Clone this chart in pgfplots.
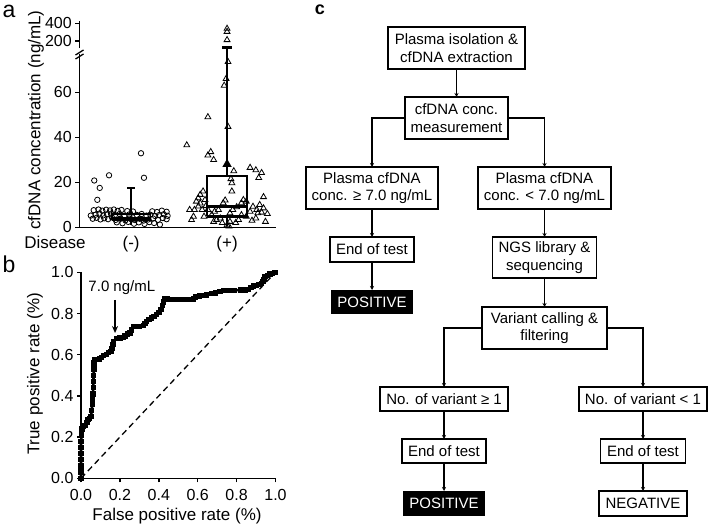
\documentclass[border=0pt]{standalone}
\usepackage{pgfplots}
\pgfplotsset{compat=1.18}
\usepackage{fontspec}
\setmainfont{Liberation Sans}
\usetikzlibrary{arrows.meta}
\begin{document}
\begin{tikzpicture}[x=1pt,y=1pt]
\path[use as bounding box] (0,0) rectangle (709,524);
\pgfplotsset{
  myax/.style={scale only axis, axis line style={-, line width=1.5pt},
    tick style={line width=1.5pt, black}, major tick length=4pt, tick align=outside,
    /pgf/number format/assume math mode=true,
    ticklabel style={font=\fontsize{16}{19}\selectfont}, clip=false},
  neg/.style={only marks, mark=o, mark size=2.7pt, mark options={line width=0.8pt, fill=white}},
  pos/.style={only marks, mark=triangle, mark size=3.4pt, mark options={line width=0.8pt}},
}
% ---------------- panel a : lower segment
\begin{axis}[myax, at={(79.3pt,296.7pt)}, anchor=south west,
  width=196.7pt, height=173.3pt, xmin=0.46, xmax=2.51, ymin=0, ymax=77,
  axis x line*=bottom, axis y line*=left, ytick={0,20,40,60},
  xtick={1,2}, xticklabels={(-),(+)}, x tick style={draw=none},
  xticklabel style={font=\fontsize{17}{20}\selectfont, yshift=-1pt}]
\addplot[neg] coordinates {
(1.103,32.9)(0.77,23.1)(1.134,22.0)(0.616,20.8)(0.673,17.5)(0.648,12.2)
(0.61,7.6)(0.66,7.9)(0.70,7.4)(0.74,7.8)(0.78,7.5)(0.82,7.9)(0.86,7.3)(0.90,7.7)(0.96,7.2)(1.02,7.0)(1.22,7.1)(1.27,6.8)(1.32,7.4)(1.37,6.9)
(0.58,5.2)(0.63,5.6)(0.67,6.1)(0.71,5.3)(0.75,5.8)(0.79,6.0)(0.83,5.4)(0.88,5.9)(0.93,5.1)(0.98,5.7)(1.06,5.5)(1.11,5.9)(1.16,5.2)(1.20,5.6)(1.25,5.0)(1.29,5.4)(1.34,5.8)(1.38,5.1)
(0.60,3.8)(0.64,4.2)(0.68,3.5)(0.72,4.0)(0.76,3.6)(0.80,4.4)(0.84,3.3)(0.89,3.9)(0.94,3.1)(1.00,3.6)(1.04,3.2)(1.09,3.8)(1.13,3.0)(1.18,3.5)(1.23,3.9)(1.28,3.3)(1.33,4.1)(1.37,3.6)
(0.85,2.2)(0.91,1.8)(0.97,2.4)(1.03,1.6)(1.08,2.2)(1.14,1.5)(1.19,2.3)(1.24,1.9)(1.30,1.2)
};
\addplot[pos] coordinates {
(2.01,73.5)(1.97,63)(1.80,49)(2.01,44.7)(1.58,36.5)(1.80,32)(1.83,33.5)(1.86,30)(2.07,25)(2.24,26.5)(2.30,25.4)(2.36,24.2)(2.33,22)(2.04,21.5)(2.05,19.7)(2.05,16)(1.75,16)(2.38,13.5)
(1.77,12.2)(1.72,10.7)(1.70,9.3)(1.66,7.8)(1.61,7.8)(1.65,4.8)(1.63,3.3)(1.74,7.8)(1.76,4.8)(1.80,7.8)(1.84,5.5)(1.86,2.5)(1.93,4.0)(1.96,10.8)(1.98,12.0)(2.03,6.3)(2.03,2.5)(2.12,3.3)(2.15,10.8)(2.17,12.2)(2.20,11.5)(2.24,7.0)(2.27,9.2)(2.31,7.8)(2.32,6.3)(2.36,6.6)(2.40,2.5)(2.30,4.0)(2.20,4.8)(1.89,3.3)(2.00,1.0)(2.02,0.5)(2.15,5.5)(2.10,9.0)(2.06,7.8)(1.91,7.8)(1.87,7.0)(1.70,13.0)(1.72,14.5)(1.68,11.5)(1.78,9.5)(2.09,2.0)(2.26,3.0)(1.95,2.0)(2.34,10.0)(2.38,8.5)(2.42,6.0)
};
% negative box plot
\addplot[line width=1.6pt] coordinates {(0.80,3.2)(1.20,3.2)(1.20,5.8)(0.80,5.8)(0.80,3.2)};
\addplot[line width=1.6pt] coordinates {(0.80,4.2)(1.20,4.2)};
\addplot[line width=1.3pt] coordinates {(1.0,5.8)(1.0,17.5)};
\addplot[line width=1.3pt] coordinates {(0.96,17.5)(1.04,17.5)};
\addplot[line width=1.3pt] coordinates {(1.0,3.2)(1.0,1.2)};
\addplot[only marks, mark=triangle*, mark size=3.5pt] coordinates {(1.0,6.2)};
% positive box plot
\addplot[line width=2.2pt] coordinates {(1.79,4.8)(2.21,4.8)(2.21,22.7)(1.79,22.7)(1.79,4.8)};
\addplot[line width=2.2pt] coordinates {(1.79,9.2)(2.21,9.2)};
\addplot[line width=2.6pt] coordinates {(2.0,22.7)(2.0,79.8)};
\addplot[line width=2.6pt] coordinates {(1.95,79.8)(2.05,79.8)};
\addplot[line width=2.6pt] coordinates {(2.0,4.8)(2.0,0.5)};
\addplot[only marks, mark=triangle*, mark size=5pt] coordinates {(2.0,28)};
\addplot[pos] coordinates {(1.99,66)};
\end{axis}
% ---------------- panel a : upper segment
\begin{axis}[myax, at={(79.3pt,475.9pt)}, anchor=south west,
  width=196.7pt, height=26.6pt, xmin=0.46, xmax=2.51, ymin=120, ymax=420,
  axis x line=none, axis y line*=left, ytick={200,400}]
\addplot[pos] coordinates {(2.0,340)(2.0,305)(2.0,212)};
\end{axis}
% axis break marks
\draw[line width=1.3pt] (75.5,469) -- (83.5,474);
\draw[line width=1.3pt] (75.5,465) -- (83.5,470);
\node[rotate=90, font=\fontsize{17}{20}\selectfont] at (36,404) {cfDNA concentration (ng/mL)};
\node[font=\fontsize{17}{20}\selectfont] at (55,282) {Disease};
\node[inner sep=0pt, font=\fontsize{23}{26}\selectfont] at (9,513) {a};
% ---------------- panel b : ROC
\begin{axis}[myax, at={(81pt,45.7pt)}, anchor=south west,
  width=194.5pt, height=206pt, xmin=0, xmax=1, ymin=0, ymax=1,
  axis lines*=left, xtick={0,0.2,...,1.0}, ytick={0,0.2,...,1.0},
  xticklabel style={yshift=-3pt},
  /pgf/number format/.cd, fixed, fixed zerofill, precision=1, /pgfplots/.cd]
\addplot[line width=1.3pt, dash pattern=on 6pt off 4pt] coordinates {(0,0)(1,1)};
\addplot[line width=2.6pt, mark=square*, mark size=1.4pt] coordinates {
(0,0)(0,0.03)(0,0.06)(0,0.09)(0,0.12)(0,0.15)(0,0.18)(0.004,0.21)(0.006,0.24)(0.012,0.25)(0.02,0.255)(0.03,0.27)(0.037,0.285)(0.045,0.29)(0.052,0.30)(0.055,0.33)(0.058,0.36)(0.06,0.38)(0.062,0.41)(0.063,0.44)(0.064,0.47)(0.065,0.50)(0.066,0.53)(0.067,0.56)(0.068,0.575)(0.08,0.577)(0.095,0.58)(0.106,0.585)(0.115,0.595)(0.132,0.60)(0.14,0.61)(0.154,0.615)(0.16,0.63)(0.165,0.65)(0.168,0.665)(0.183,0.68)(0.2,0.682)(0.215,0.684)(0.226,0.69)(0.24,0.70)(0.252,0.705)(0.26,0.72)(0.269,0.737)(0.285,0.738)(0.30,0.738)(0.32,0.742)(0.33,0.752)(0.337,0.762)(0.35,0.77)(0.363,0.778)(0.375,0.785)(0.389,0.795)(0.40,0.805)(0.411,0.82)(0.418,0.84)(0.424,0.855)(0.43,0.87)(0.445,0.87)(0.466,0.869)(0.48,0.867)(0.50,0.867)(0.52,0.867)(0.545,0.867)(0.565,0.868)(0.577,0.87)(0.59,0.88)(0.61,0.885)(0.63,0.888)(0.646,0.89)(0.672,0.898)(0.69,0.9)(0.715,0.906)(0.732,0.911)(0.76,0.912)(0.79,0.913)(0.82,0.914)(0.845,0.915)(0.86,0.917)(0.873,0.925)(0.886,0.933)(0.9,0.935)(0.915,0.94)(0.929,0.947)(0.935,0.955)(0.94,0.965)(0.946,0.979)(0.96,0.985)(0.972,0.992)(0.985,0.995)(0.997,1.0)
};
\draw[line width=1.3pt, -{Stealth[length=7pt, width=6pt]}] (axis cs:0.175,0.866) -- (axis cs:0.175,0.705);
\node[font=\fontsize{15}{18}\selectfont] at (axis cs:0.21,0.924) {7.0 ng/mL};
\end{axis}
\node[rotate=90, font=\fontsize{17}{20}\selectfont] at (35,150) {True positive rate (\%)};
\node[font=\fontsize{17}{20}\selectfont] at (177,8) {False positive rate (\%)};
\node[font=\fontsize{23}{26}\selectfont] at (9,260) {b};
% ---------------- panel c : flowchart
\node[font=\bfseries\fontsize{18}{20}\selectfont] at (320,514) {c};
\tikzset{bx/.style={draw, line width=1.2pt, align=center, inner sep=0pt, font=\fontsize{15}{17.5}\selectfont},
  bk/.style={fill=black, text=white, inner sep=0pt, font=\fontsize{15}{17.5}\selectfont},
  ar/.style={line width=1.3pt, -{Stealth[length=4pt, width=4pt]}}}
\node[bx, minimum width=137, minimum height=42] at (456.5,476) {Plasma isolation \&\\cfDNA extraction};
\node[bx, minimum width=103, minimum height=42] at (456.5,406) {cfDNA conc.\\measurement};
\node[bx, minimum width=132, minimum height=42] at (372,336) {Plasma cfDNA\\conc. ≥ 7.0 ng/mL};
\node[bx, minimum width=133, minimum height=42] at (544.5,336) {Plasma cfDNA\\conc. < 7.0 ng/mL};
\node[bx, minimum width=84, minimum height=25] at (372,274.5) {End of test};
\node[bx, minimum width=104, minimum height=41] at (544.5,266.5) {NGS library \&\\sequencing};
\node[bk, minimum width=82, minimum height=24] at (372,222) {POSITIVE};
\node[bx, minimum width=125, minimum height=42] at (544.5,196) {Variant calling \&\\filtering};
\node[bx, minimum width=128, minimum height=24] at (444,125) {No. of variant ≥ 1};
\node[bx, minimum width=128, minimum height=24] at (643,125) {No. of variant < 1};
\node[bx, minimum width=84, minimum height=24] at (444,73) {End of test};
\node[bx, minimum width=85, minimum height=24] at (643,73) {End of test};
\node[bk, minimum width=82, minimum height=25] at (444,20.5) {POSITIVE};
\node[bx, minimum width=88, minimum height=25] at (643,20.5) {NEGATIVE};
\draw[ar] (456.5,455) -- (456.5,427);
\draw[ar] (405,406) -- (372,406) -- (372,357);
\draw[ar] (508,406) -- (544.5,406) -- (544.5,357);
\draw[ar] (372,315) -- (372,287);
\draw[ar] (372,262) -- (372,234);
\draw[ar] (544.5,315) -- (544.5,287);
\draw[ar] (544.5,246) -- (544.5,217);
\draw[ar] (482,196) -- (444,196) -- (444,137);
\draw[ar] (607,196) -- (643,196) -- (643,137);
\draw[ar] (444,113) -- (444,85);
\draw[ar] (444,61) -- (444,33);
\draw[ar] (643,113) -- (643,85);
\draw[ar] (643,61) -- (643,33);
\end{tikzpicture}
\end{document}
